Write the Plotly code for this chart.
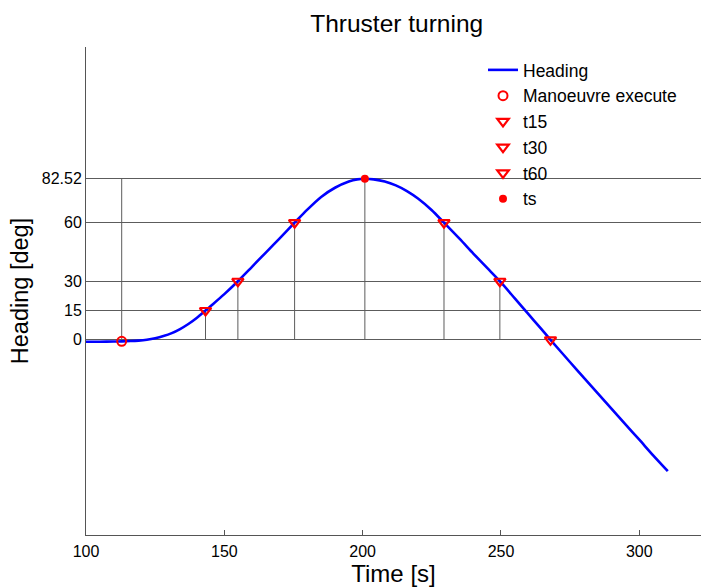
import plotly.graph_objects as go

# ---- data ----
heading_t = [100, 105, 110, 113, 116, 119, 122, 125, 128, 131, 134, 137, 140, 143.2, 145, 150,
             154.9, 160, 165, 170, 175.4, 180, 185, 190, 195, 198, 200.8, 204, 208, 212, 216,
             220, 225, 229.4, 235, 240, 245, 249.6, 255, 260, 264, 267.9, 275, 280,
             285, 290, 295, 300, 305, 310.3]
heading_deg = [-1.0, -1.0, -0.9, -0.8, -0.65, -0.4, 0.05, 0.8, 1.9, 3.4, 5.5, 8.1, 11.2, 15, 17.2, 23.4,
               30, 37.4, 44.7, 52.0, 60, 66.7, 73.2, 77.9, 81.1, 82.2, 82.52, 82.2, 81.1, 79.1, 76.2,
               72.4, 66.4, 60, 51.8, 44.2, 36.8, 30, 21.2, 13.0, 6.5, 0, -11.5, -19.5,
               -27.4, -35.4, -43.3, -51.2, -59.2, -67.3]

manoeuvre_t = [112.9]
manoeuvre_deg = [-0.8]
t15_t = [143.2, 267.9]
t15_deg = [15, 0]
t30_t = [154.9, 249.6]
t30_deg = [30, 30]
t60_t = [175.4, 229.4]
t60_deg = [60, 60]
ts_t = [200.8]
ts_deg = [82.52]

ytick_vals = [0, 15, 30, 60, 82.52]
ytick_text = ["0", "15", "30", "60", "82.52"]
xtick_vals = [100, 150, 200, 250, 300]

# vertical guide lines from 0 to each event value (manoeuvre line reaches ts value)
vx, vy = [], []
for t in manoeuvre_t:
    vx += [t, t, None]
    vy += [0, ts_deg[0], None]
for ts_, ds_ in zip(t15_t + t30_t + t60_t + ts_t, t15_deg + t30_deg + t60_deg + ts_deg):
    vx += [ts_, ts_, None]
    vy += [0, ds_, None]

RED = "#ff0000"
fig = go.Figure()
fig.add_trace(go.Scatter(x=vx, y=vy, mode="lines", line=dict(color="#5c5c5c", width=1),
                         showlegend=False, hoverinfo="skip"))
fig.add_trace(go.Scatter(x=heading_t, y=heading_deg, mode="lines", name="Heading",
                         line=dict(color="#0000ff", width=2.6, shape="spline", smoothing=0.8)))
fig.add_trace(go.Scatter(x=manoeuvre_t, y=manoeuvre_deg, mode="markers", name="Manoeuvre execute",
                         marker=dict(symbol="circle-open", size=9, color=RED, line=dict(width=2, color=RED))))
for name, xs, ys in [("t15", t15_t, t15_deg), ("t30", t30_t, t30_deg), ("t60", t60_t, t60_deg)]:
    fig.add_trace(go.Scatter(x=xs, y=ys, mode="markers", name=name,
                             marker=dict(symbol="triangle-down-open", size=10, color=RED,
                                         line=dict(width=2.2, color=RED))))
fig.add_trace(go.Scatter(x=ts_t, y=ts_deg, mode="markers", name="ts",
                         marker=dict(symbol="circle", size=8, color=RED, line=dict(width=0))))

fig.update_layout(
    width=701, height=587,
    margin=dict(l=86, r=0, t=47, b=52, autoexpand=False),
    plot_bgcolor="white", paper_bgcolor="white",
    font=dict(family="Liberation Sans, Arial, sans-serif", color="#000000"),
    title=dict(text="Thruster turning", x=396.7 / 701, xanchor="center",
               y=1 - 23 / 587, yanchor="middle", font=dict(size=24.5, color="#000000")),
    legend=dict(x=(483 - 86) / 615, y=(535 - 52) / 488, xanchor="left", yanchor="top",
                bgcolor="rgba(0,0,0,0)", borderwidth=0, font=dict(size=17.5, color="#000000")),
    showlegend=True,
)
fig.update_xaxes(range=[100, 322.3], tickvals=xtick_vals, ticks="inside", ticklen=5,
                 tickcolor="#555555", showline=True, linecolor="#555555", linewidth=1,
                 showgrid=False, zeroline=False, tickfont=dict(size=16), automargin=False,
                 ticklabelstandoff=2,
                 title=dict(text="Time [s]", font=dict(size=24), standoff=3))
fig.update_yaxes(range=[-100, 150], tickvals=ytick_vals, ticktext=ytick_text, ticks="",
                 showline=True, linecolor="#555555", linewidth=1,
                 showgrid=True, gridcolor="#5c5c5c", gridwidth=1, zeroline=False,
                 tickfont=dict(size=16), automargin=False,
                 title=dict(text="Heading [deg]", font=dict(size=23.5), standoff=6))

fig.write_html("out.html")
